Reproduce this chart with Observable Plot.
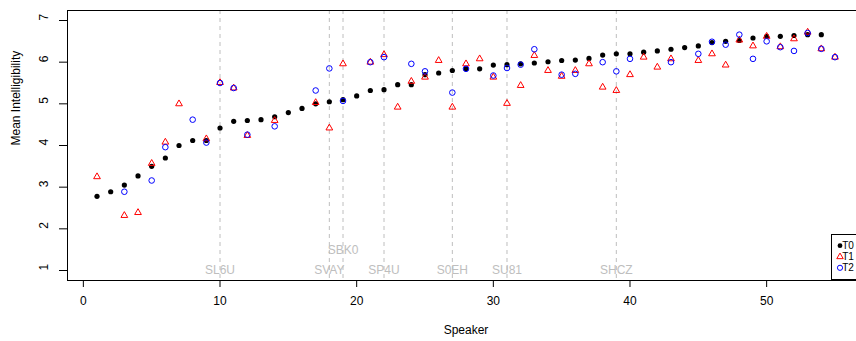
<!DOCTYPE html>
<html>
<head>
<meta charset="utf-8">
<script src="https://cdn.jsdelivr.net/npm/d3@7"></script>
<script src="https://cdn.jsdelivr.net/npm/@observablehq/plot@0.6"></script>
<style>
  html, body { margin: 0; padding: 0; background: #fff; overflow: hidden; }
  #chart svg { max-width: none !important; display: block; }
</style>
</head>
<body>
<div id="chart"></div>
<script>
// ---- data ----
const t0Speakers = d3.range(1, 55);
const t0Values = [2.78, 2.89, 3.05, 3.27, 3.50, 3.70, 4.00, 4.12, 4.12, 4.42,
  4.58, 4.60, 4.62, 4.69, 4.79, 4.89, 5.00, 5.05, 5.10, 5.19,
  5.32, 5.34, 5.46, 5.46, 5.70, 5.74, 5.80, 5.84, 5.84, 5.93,
  5.94, 5.96, 5.98, 6.01, 6.04, 6.05, 6.09, 6.17, 6.20, 6.20,
  6.24, 6.27, 6.31, 6.35, 6.39, 6.47, 6.50, 6.52, 6.58, 6.62,
  6.62, 6.64, 6.66, 6.66];

const t1Speakers = [1, 3, 4, 5, 6, 7, 9, 10, 11, 12, 14, 17, 18, 19, 21, 22, 23, 24, 25, 26,
  27, 28, 29, 30, 31, 32, 33, 34, 35, 36, 37, 38, 39, 40, 41, 42, 43, 45, 46, 47,
  48, 49, 50, 51, 52, 53, 54, 55];
const t1Values = [3.25, 2.32, 2.39, 3.57, 4.08, 5.00, 4.16, 5.51, 5.38, 4.24, 4.60, 5.03, 4.42, 5.96, 6.00, 6.18, 4.92, 5.54, 5.64, 6.04,
  4.92, 5.96, 6.08, 5.64, 5.01, 5.44, 6.16, 5.80, 5.66, 5.80, 5.96, 5.40, 5.32, 5.70, 6.12, 5.88, 6.08, 6.04, 6.20, 5.93,
  6.53, 6.39, 6.62, 6.37, 6.56, 6.72, 6.32, 6.12];

const t2Speakers = [3, 5, 6, 8, 9, 10, 11, 12, 14, 17, 18, 19, 21, 22, 24, 25, 27, 28, 30, 31,
  32, 33, 35, 36, 38, 39, 40, 43, 45, 46, 47, 48, 49, 50, 51, 52, 53, 54, 55];
const t2Values = [2.89, 3.16, 3.96, 4.62, 4.07, 5.50, 5.38, 4.26, 4.46, 5.32, 5.85, 5.07, 6.00, 6.12, 5.96, 5.78, 5.27, 5.84, 5.68, 5.86,
  5.94, 6.31, 5.70, 5.72, 6.00, 5.78, 6.08, 6.00, 6.20, 6.49, 6.42, 6.66, 6.08, 6.50, 6.36, 6.27, 6.70, 6.32, 6.12];

const markSpeakers = [10, 18, 19, 22, 27, 31, 39];
const markLabels = ["SL6U", "SVAY", "SBK0", "SP4U", "S0EH", "SU81", "SHCZ"];
const markLabelY = [1, 1, 1.5, 1, 1, 1, 1];

const xTicks = [0, 10, 20, 30, 40, 50];
const yTicks = [1, 2, 3, 4, 5, 6, 7];
const seriesNames = ["T0", "T1", "T2"];

// ---- tables ----
const t0 = t0Speakers.map((s, i) => ({s, v: t0Values[i]}));
const t1 = t1Speakers.map((s, i) => ({s, v: t1Values[i]}));
const t2 = t2Speakers.map((s, i) => ({s, v: t2Values[i]}));
const marks = markSpeakers.map((s, i) => ({s, label: markLabels[i], y: markLabelY[i]}));

const FONT = "'Liberation Sans', Arial, Helvetica, sans-serif";
const GRAY = "#bebebe";

const chart = Plot.plot({
  width: 880,
  height: 341,
  marginLeft: 67,
  marginRight: 16,
  marginTop: 10,
  marginBottom: 61,
  style: {fontFamily: FONT, fontSize: "12px", background: "#fff", color: "#000", overflow: "visible"},
  x: {domain: [-1.16, 57.16]},
  y: {domain: [0.76, 7.24]},
  marks: [
    Plot.ruleX(marks, {x: "s", stroke: GRAY, strokeWidth: 1, strokeDasharray: "4,4"}),
    Plot.text(marks, {x: "s", y: "y", text: "label", fill: GRAY, fontSize: 12}),
    Plot.dot(t0, {x: "s", y: "v", r: 2.6, fill: "black", stroke: "none"}),
    Plot.dot(t1, {x: "s", y: "v", symbol: "triangle", r: 2.5, fill: "none", stroke: "red", strokeWidth: 1}),
    Plot.dot(t2, {x: "s", y: "v", symbol: "circle", r: 2.8, fill: "none", stroke: "blue", strokeWidth: 1}),
    Plot.axisX({ticks: xTicks, tickSize: 7, tickPadding: 9, fontSize: 12, label: null, tickFormat: d => String(d)}),
    Plot.axisY({ticks: yTicks, tickSize: 8, label: null, tickFormat: () => ""}),
    Plot.text(yTicks, {y: d => d, text: d => String(d), frameAnchor: "left", dx: -23, rotate: -90, fontSize: 12}),
    Plot.text(["Mean Intelligibility"], {y: [4], text: d => d, frameAnchor: "left", dx: -51, rotate: -90, fontSize: 12}),
    Plot.text(["Speaker"], {text: d => d, frameAnchor: "bottom", dy: 50, lineAnchor: "middle", fontSize: 12}),
    Plot.frame({stroke: "black", strokeWidth: 1})
  ]
});

document.getElementById("chart").appendChild(chart);

// ---- legend (bottom right, as in the reference) ----
const svg = d3.select(chart);
const lg = svg.append("g").attr("font-family", FONT).attr("font-size", 10);
lg.append("rect").attr("x", 831.5).attr("y", 234.5).attr("width", 32.5).attr("height", 45)
  .attr("fill", "white").attr("stroke", "black").attr("stroke-width", 1);
const rows = [245.7, 256.8, 267.8];
lg.append("path").attr("transform", `translate(840,${rows[0]})`)
  .attr("d", d3.symbol(d3.symbolCircle, Math.PI * 2.4 * 2.4)()).attr("fill", "black");
lg.append("path").attr("transform", `translate(840,${rows[1]})`)
  .attr("d", d3.symbol(d3.symbolTriangle, Math.PI * 2.4 * 2.4)()).attr("fill", "none").attr("stroke", "red");
lg.append("path").attr("transform", `translate(840,${rows[2]})`)
  .attr("d", d3.symbol(d3.symbolCircle, Math.PI * 2.6 * 2.6)()).attr("fill", "none").attr("stroke", "blue");
seriesNames.forEach((n, i) => {
  lg.append("text").attr("x", 848).attr("y", rows[i]).attr("dy", "0.35em").text(n);
});
</script>
</body>
</html>
